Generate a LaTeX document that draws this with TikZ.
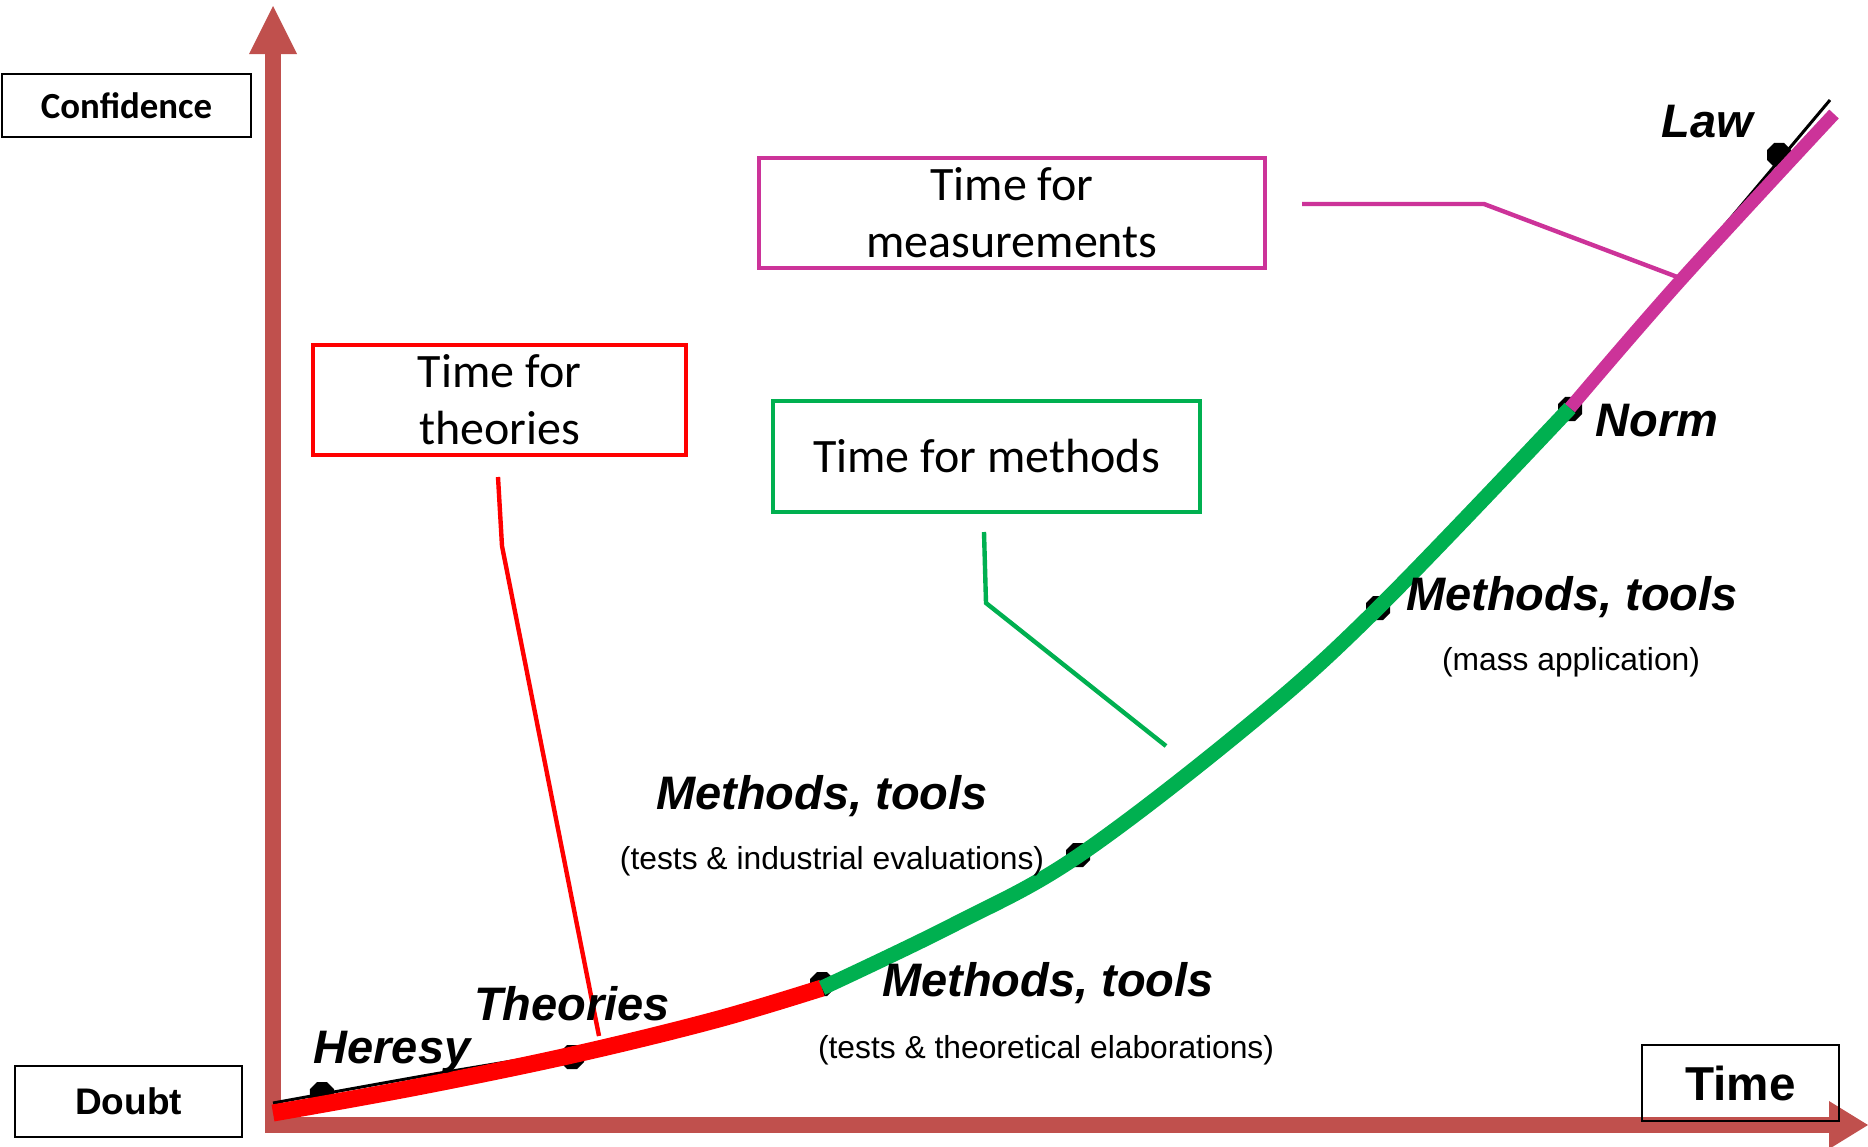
\documentclass[tikz,border=0pt]{standalone}
\usepackage{fontspec}
\setmainfont{Liberation Sans}
\newfontfamily\calib{Carlito}
\usetikzlibrary{shapes.geometric}
\definecolor{axisred}{HTML}{C0504D}
\definecolor{mgreen}{HTML}{00B050}
\definecolor{mmag}{HTML}{CC3399}
\definecolor{mred}{HTML}{FF0000}
\begin{document}
\begin{tikzpicture}[x=0.5pt,y=-0.5pt,
  lbl/.style={font=\fontsize{23.5}{28}\selectfont\bfseries\itshape, inner sep=0pt},
  sublbl/.style={font=\fontsize{15.9}{19}\selectfont, inner sep=0pt},
  cbox/.style={draw, line width=2pt, font=\calib\fontsize{24}{28.5}\selectfont, align=center, inner sep=0pt},
  kbox/.style={draw=black, line width=1.2pt, inner sep=0pt},
  dot/.style={regular polygon, regular polygon sides=8, fill=black, minimum size=13pt, inner sep=0pt},
  leader/.style={line width=2.2pt}]
\useasboundingbox (0,0) rectangle (1868,1146);

% axes
\fill[axisred] (265,54) rectangle (281,1131);
\fill[axisred] (249,54) -- (297,54) -- (273,6) -- cycle;
\fill[axisred] (265,1117) rectangle (1829,1133);
\fill[axisred] (1829,1101) -- (1829,1149) -- (1868,1125) -- cycle;

% axis boxes
\node[kbox, minimum width=124.5pt, minimum height=31.5pt, font=\calib\bfseries\fontsize{18.4}{22}\selectfont] (conf) at (126.5,105.5) {Confidence};
\node[kbox, minimum width=113.5pt, minimum height=35.5pt, font=\bfseries\fontsize{18.5}{22}\selectfont] (doubt) at (128.5,1101.5) {Doubt};
\node[kbox, minimum width=98.5pt, minimum height=38pt, font=\bfseries\fontsize{23.8}{28}\selectfont] (time) at (1740.5,1083) {Time};

% dots
\node[dot] (d1) at (322,1094) {};
\node[dot] (d2) at (572,1057) {};
\node[dot] (d3) at (822,984) {};
\node[dot] (d4) at (1078,855) {};
\node[dot] (d5) at (1378,608) {};
\node[dot] (d6) at (1570,409) {};
\node[dot] (d7) at (1779,155) {};

% thin black base curve
\draw[line width=1.5pt] plot[smooth, tension=0.6] coordinates {(273,1103) (417,1077) (572,1050) (715,1017) (822,985) (953,923) (1078,854) (1251,722) (1378,607) (1570,406) (1680,278) (1830,100)};

% coloured curve
\draw[mred, line width=8.5pt] plot[smooth, tension=0.6] coordinates {(273,1113) (417,1087) (572,1055) (715,1020) (822,988)};
\draw[mgreen, line width=7.5pt] plot[smooth, tension=0.6] coordinates {(822,988) (953,925) (1078,856) (1251,723) (1378,608) (1570,408)};
\draw[mmag, line width=6.5pt] plot[smooth, tension=0.6] coordinates {(1570,408) (1680,281) (1834,114)};

% phase boxes
\node[cbox, draw=mred, minimum width=186.5pt, minimum height=55pt] (theo) at (499.5,400) {Time for\\theories};
\node[cbox, draw=mmag, minimum width=253pt, minimum height=55pt] (meas) at (1012,213) {Time for\\measurements};
\node[cbox, draw=mgreen, minimum width=213.5pt, minimum height=55.5pt] (meth) at (986.5,456.5) {Time for methods};

% leaders
\coordinate (rl1) at (498,477);
\coordinate (rl2) at (502,546);
\coordinate (rl3) at (599,1036);
\draw[leader, mred] (rl1) -- (rl2) -- (rl3);
\coordinate (gl1) at (984,532);
\coordinate (gl2) at (986,603);
\coordinate (gl3) at (1166,746);
\draw[leader, mgreen] (gl1) -- (gl2) -- (gl3);
\coordinate (ml1) at (1302,204);
\coordinate (ml2) at (1484,204);
\coordinate (ml3) at (1680,278);
\draw[leader, mmag] (ml1) -- (ml2) -- (ml3);

% labels
\node[lbl] (law) at (1707,122) {Law};
\node[lbl] (norm) at (1657,421) {Norm};
\node[lbl] (mt3) at (1572,597) {Methods, tools};
\node[sublbl] (mt3s) at (1571,662) {(mass application)};
\node[lbl] (mt2) at (822,796) {Methods, tools};
\node[sublbl] (mt2s) at (832,861) {(tests \& industrial evaluations)};
\node[lbl] (mt1) at (1048,983) {Methods, tools};
\node[sublbl] (mt1s) at (1046,1050) {(tests \& theoretical elaborations)};
\node[lbl] (theories) at (572,1004) {Theories};
\node[lbl] (heresy) at (392,1052) {Heresy};
\end{tikzpicture}
\end{document}
